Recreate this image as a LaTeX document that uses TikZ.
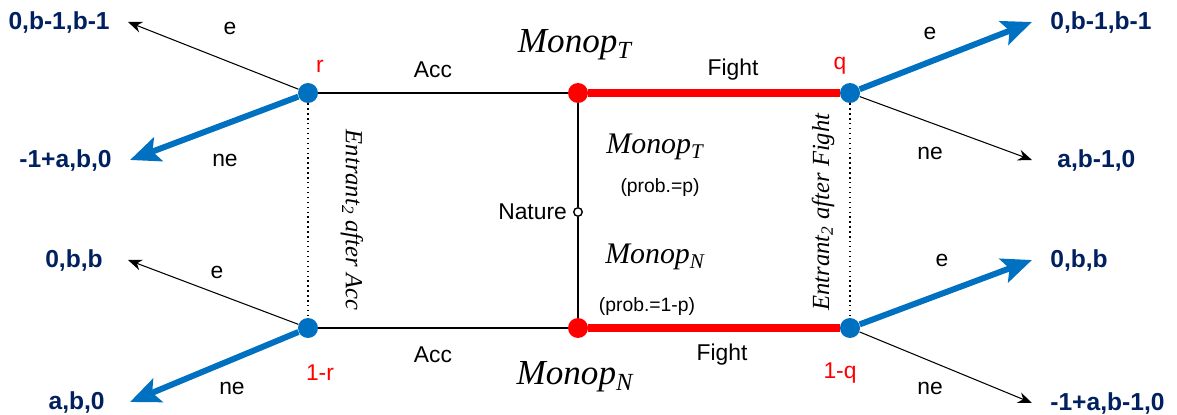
\documentclass[tikz,border=0pt]{standalone}
\usepackage{fontspec}
\setmainfont{Liberation Sans}
\newfontfamily\tmsfont{Liberation Serif}
\usetikzlibrary{arrows.meta,positioning}
\definecolor{gblue}{HTML}{0070C0}
\definecolor{gnavy}{HTML}{002060}

\begin{document}
\begin{tikzpicture}[x=0.02cm,y=-0.02cm,>=Stealth,
  bdot/.style={circle,fill=gblue,inner sep=0pt,minimum size=0.4cm},
  rdot/.style={circle,fill=red,inner sep=0pt,minimum size=0.4cm},
  pay/.style={font=\fontsize{14}{16}\selectfont\bfseries,text=gnavy,inner xsep=0.36cm,inner ysep=0pt},
  lab/.style={font=\fontsize{13}{15}\selectfont},
  plab/.style={font=\fontsize{13}{15}\selectfont,text=red},
  small/.style={font=\fontsize{11}{13}\selectfont},
  bigmono/.style={font=\fontsize{20}{22}\selectfont\tmsfont\itshape},
  midmono/.style={font=\fontsize{17}{19}\selectfont\tmsfont\itshape},
  ent/.style={font=\fontsize{14}{16}\selectfont\tmsfont\itshape},
  movethin/.style={->,line width=0.6pt,-{Stealth[length=0.28cm,width=0.22cm]}},
  moveblue/.style={line width=3.4pt,draw=gblue,-{Stealth[length=0.6cm,width=0.5cm,inset=0.12cm]}}]
  \useasboundingbox (0,0) rectangle (1177,415);

  % decision nodes
  \node[bdot] (r) at (308,93) {};
  \node[bdot] (rb) at (308,328) {};
  \node[rdot] (mT) at (578,93) {};
  \node[rdot] (mN) at (578,328) {};
  \node[bdot] (q) at (850,93) {};
  \node[bdot] (qb) at (850,328) {};
  \node[circle,draw,fill=white,line width=0.8pt,inner sep=0pt,minimum size=0.17cm] (nat) at (578,212) {};
  \node[lab,left=0pt of nat] {Nature};

  % payoffs
  \node[pay,anchor=east] (pl1) at (128,22) {0,b-1,b-1};
  \node[pay,anchor=east] (pl2) at (130,160) {-1+a,b,0};
  \node[pay,anchor=east,inner xsep=0.5cm] (pl3) at (128,260) {0,b,b};
  \node[pay,anchor=east,inner xsep=0.5cm] (pl4) at (130,402) {a,b,0};
  \node[pay,anchor=west] (pr1) at (1032,22) {0,b-1,b-1};
  \node[pay,anchor=west,inner xsep=0.5cm] (pr2) at (1032,160) {a,b-1,0};
  \node[pay,anchor=west] (pr3) at (1032,260) {0,b,b};
  \node[pay,anchor=west] (pr4) at (1032,403) {-1+a,b-1,0};

  % tree edges
  \draw[line width=1.1pt] (r) -- (mT);
  \draw[line width=1.1pt] (rb) -- (mN);
  \draw[line width=4pt,red] (mT) -- (q);
  \draw[line width=4pt,red] (mN) -- (qb);
  \draw[line width=1.1pt] (mT) -- (nat);
  \draw[line width=1.1pt] (nat) -- (mN);
  \draw[dotted,line width=0.8pt] (r) -- (rb);
  \draw[dotted,line width=0.8pt] (q) -- (qb);

  % entrant moves
  \draw[movethin] (r) -- (pl1.east);
  \draw[moveblue] (r) -- (pl2.east);
  \draw[movethin] (rb) -- (pl3.east);
  \draw[moveblue] (rb) -- (pl4.east);
  \draw[moveblue] (q) -- (pr1.west);
  \draw[movethin] (q) -- (pr2.west);
  \draw[moveblue] (qb) -- (pr3.west);
  \draw[movethin] (qb) -- (pr4.west);

  % move labels
  \node[lab] at (230,28) {e};
  \node[lab] at (225,160) {ne};
  \node[lab] at (217,272) {e};
  \node[lab] at (232,388) {ne};
  \node[lab] at (930,33) {e};
  \node[lab] at (930,153) {ne};
  \node[lab] at (942,260) {e};
  \node[lab] at (930,388) {ne};
  \node[lab] at (433,70) {Acc};
  \node[lab] at (733,70) {Fight};
  \node[lab] at (433,355) {Acc};
  \node[lab] at (722,355) {Fight};

  % beliefs
  \node[plab] at (320,66) {r};
  \node[plab] at (320,373) {1-r};
  \node[plab] at (840,66) {q};
  \node[plab] at (840,373) {1-q};

  % types
  \node[bigmono] at (575,45) {Monop\textsubscript{T}};
  \node[bigmono] at (575,377) {Monop\textsubscript{N}};
  \node[midmono] at (655,147) {Monop\textsubscript{T}};
  \node[small] at (660,188) {(prob.=p)};
  \node[midmono] at (655,257) {Monop\textsubscript{N}};
  \node[small] at (647,307) {(prob.=1-p)};

  % information sets
  \node[ent,rotate=-90] at (352,220) {Entrant\textsubscript{2} after Acc};
  \node[ent,rotate=90] at (823,212) {Entrant\textsubscript{2} after Fight};
\end{tikzpicture}
\end{document}
